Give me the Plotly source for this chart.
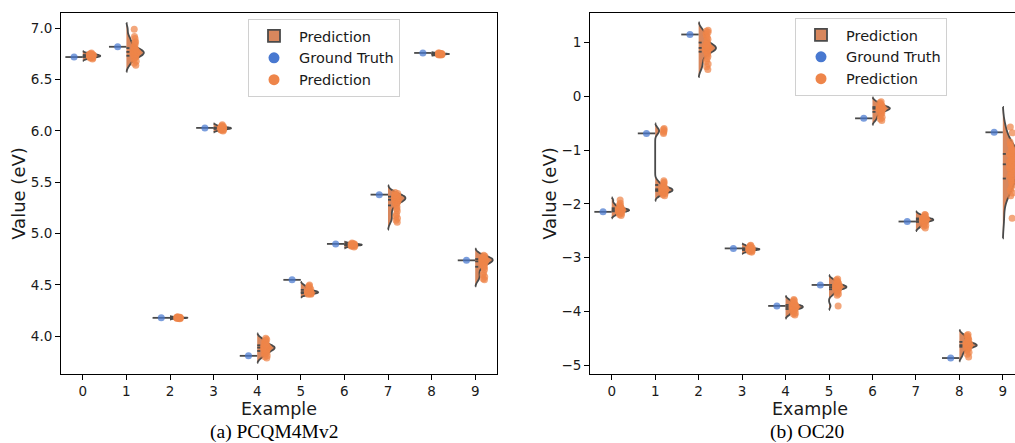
import numpy as np
import plotly.graph_objects as go

examples = list(range(10))

# (a) PCQM4Mv2
gt_a = [6.72, 6.82, 4.18, 6.03, 3.81, 4.55, 4.90, 5.38, 6.76, 4.74]
pred_a = [
    [6.70, 6.71, 6.72, 6.72, 6.73, 6.73, 6.73, 6.74, 6.74, 6.74, 6.75, 6.75, 6.76, 6.72, 6.73, 6.71, 6.74, 6.73, 6.75, 6.72],
    [6.64, 6.66, 6.68, 6.70, 6.71, 6.72, 6.73, 6.74, 6.75, 6.75, 6.76, 6.76, 6.77, 6.77, 6.78, 6.78, 6.79, 6.80, 6.81, 6.82, 6.84, 6.86, 6.87, 6.90, 6.92, 6.99, 6.74, 6.79, 6.73, 6.77],
    [4.17, 4.175, 4.18, 4.18, 4.18, 4.185, 4.18, 4.175, 4.185, 4.19, 4.18, 4.18, 4.175, 4.18, 4.185],
    [6.00, 6.01, 6.01, 6.02, 6.02, 6.02, 6.03, 6.03, 6.03, 6.03, 6.04, 6.04, 6.05, 6.06, 6.02, 6.03, 6.01, 6.04, 6.02, 6.03],
    [3.79, 3.80, 3.81, 3.83, 3.84, 3.85, 3.86, 3.87, 3.88, 3.88, 3.89, 3.89, 3.89, 3.90, 3.90, 3.91, 3.92, 3.93, 3.94, 3.95, 3.96, 3.97, 3.98, 3.87, 3.90, 3.91, 3.86, 3.84],
    [4.41, 4.41, 4.42, 4.42, 4.42, 4.43, 4.43, 4.43, 4.43, 4.44, 4.44, 4.44, 4.45, 4.46, 4.47, 4.48, 4.49, 4.50, 4.42, 4.43],
    [4.87, 4.88, 4.88, 4.89, 4.89, 4.89, 4.89, 4.90, 4.90, 4.90, 4.91, 4.88, 4.89, 4.90, 4.89],
    [5.11, 5.13, 5.15, 5.17, 5.19, 5.22, 5.24, 5.26, 5.28, 5.29, 5.30, 5.31, 5.32, 5.33, 5.33, 5.34, 5.34, 5.35, 5.35, 5.35, 5.36, 5.36, 5.37, 5.37, 5.38, 5.38, 5.39, 5.40, 5.34, 5.36, 5.33, 5.31],
    [6.74, 6.745, 6.75, 6.75, 6.75, 6.755, 6.76, 6.75, 6.745, 6.75, 6.755, 6.75, 6.76, 6.74, 6.75],
    [4.55, 4.56, 4.58, 4.60, 4.62, 4.65, 4.67, 4.68, 4.69, 4.70, 4.71, 4.72, 4.73, 4.73, 4.74, 4.74, 4.75, 4.75, 4.75, 4.76, 4.76, 4.77, 4.78, 4.79, 4.74, 4.72, 4.76, 4.77],
]

# (b) OC20
gt_b = [-2.15, -0.69, 1.15, -2.83, -3.90, -3.51, -0.41, -2.33, -4.87, -0.67]
pred_b = [
    [-2.22, -2.20, -2.18, -2.17, -2.16, -2.15, -2.14, -2.13, -2.13, -2.12, -2.12, -2.11, -2.11, -2.10, -2.10, -2.09, -2.08, -2.07, -2.06, -2.04, -2.02, -1.99, -1.93, -2.12, -2.14, -2.11],
    [-0.60, -0.62, -0.64, -0.67, -0.69, -1.85, -1.83, -1.81, -1.80, -1.79, -1.78, -1.77, -1.76, -1.75, -1.75, -1.74, -1.74, -1.73, -1.73, -1.72, -1.71, -1.70, -1.69, -1.67, -1.65, -1.62, -1.60, -1.57, -1.76, -1.74, -1.72, -1.78, -1.70],
    [0.50, 0.55, 0.60, 0.65, 0.70, 0.74, 0.78, 0.80, 0.83, 0.85, 0.87, 0.88, 0.89, 0.90, 0.90, 0.91, 0.92, 0.93, 0.95, 0.97, 1.00, 1.03, 1.06, 1.10, 1.13, 1.16, 1.19, 1.21, 1.23, 0.88, 0.92, 0.95, 0.86],
    [-2.90, -2.89, -2.88, -2.87, -2.86, -2.86, -2.85, -2.85, -2.85, -2.84, -2.84, -2.83, -2.83, -2.82, -2.81, -2.80, -2.78, -2.77, -2.85, -2.84],
    [-4.07, -4.05, -4.03, -4.01, -3.99, -3.97, -3.96, -3.95, -3.94, -3.93, -3.92, -3.92, -3.91, -3.91, -3.90, -3.89, -3.88, -3.87, -3.86, -3.84, -3.82, -3.80, -3.78, -3.93, -3.90, -3.94],
    [-3.90, -3.70, -3.68, -3.65, -3.63, -3.61, -3.59, -3.58, -3.57, -3.56, -3.55, -3.55, -3.54, -3.53, -3.52, -3.51, -3.50, -3.48, -3.46, -3.44, -3.42, -3.40, -3.55, -3.53, -3.57],
    [-0.45, -0.42, -0.39, -0.36, -0.33, -0.31, -0.29, -0.27, -0.26, -0.25, -0.24, -0.23, -0.22, -0.22, -0.21, -0.20, -0.19, -0.18, -0.16, -0.14, -0.12, -0.10, -0.23, -0.21, -0.25],
    [-2.45, -2.42, -2.40, -2.38, -2.36, -2.34, -2.33, -2.32, -2.31, -2.30, -2.30, -2.29, -2.29, -2.28, -2.27, -2.26, -2.25, -2.23, -2.21, -2.20, -2.31, -2.29],
    [-4.85, -4.80, -4.76, -4.73, -4.70, -4.68, -4.66, -4.65, -4.64, -4.63, -4.63, -4.62, -4.61, -4.60, -4.59, -4.57, -4.55, -4.53, -4.50, -4.47, -4.45, -4.43, -4.64, -4.62, -4.66],
    [-0.57, -0.68, -0.85, -0.90, -0.95, -1.00, -1.02, -1.05, -1.08, -1.10, -1.12, -1.15, -1.18, -1.20, -1.22, -1.25, -1.28, -1.30, -1.33, -1.36, -1.40, -1.44, -1.48, -1.52, -1.56, -1.60, -1.65, -1.70, -1.75, -1.80, -1.85, -2.27],
]

ticks_a = [4.0, 4.5, 5.0, 5.5, 6.0, 6.5, 7.0]
ticks_b = [-5, -4, -3, -2, -1, 0, 1]

BLUE = "rgba(72,120,208,0.72)"
BLUE_LEG = "#4878d0"
ORANGE = "rgba(238,133,74,0.72)"
ORANGE_LEG = "#ee854a"
VFILL = "#d8875d"
EDGE = "#4a4a4a"
FONT = "DejaVu Sans"

fig = go.Figure()


def add_panel(gt, preds, xa, ya, legend):
    # violins first (drawn underneath)
    for i, p in zip(examples, preds):
        fig.add_trace(go.Violin(
            x0=i, y=p, side="positive", width=0.8, scalemode="width",
            fillcolor=VFILL, opacity=1, line=dict(color=EDGE, width=1.8),
            points="all", pointpos=0.5, jitter=0.15,
            marker=dict(color=ORANGE, size=7, line=dict(width=0)),
            name="Prediction", legendgroup="viol" + legend, legend=legend,
            showlegend=(i == 0), xaxis=xa, yaxis=ya, hoverinfo="skip",
        ))
    # ground-truth half (single value -> horizontal line) + quartile sticks
    lx, ly = [], []
    for i, g in zip(examples, gt):
        lx += [i - 0.4, i, None]
        ly += [g, g, None]
    for i, p in zip(examples, preds):
        for q in np.percentile(p, [25, 50, 75]):
            lx += [i, i + 0.07, None]
            ly += [q, q, None]
    fig.add_trace(go.Scatter(x=lx, y=ly, mode="lines", line=dict(color=EDGE, width=1.8),
                             showlegend=False, xaxis=xa, yaxis=ya, hoverinfo="skip"))
    fig.add_trace(go.Scatter(x=[i - 0.2 for i in examples], y=gt, mode="markers",
                             marker=dict(color=BLUE, size=7), showlegend=False,
                             xaxis=xa, yaxis=ya))
    # legend entries
    fig.add_trace(go.Scatter(x=[None], y=[None], mode="markers", name="Ground Truth",
                             marker=dict(color=BLUE_LEG, size=11), legend=legend,
                             xaxis=xa, yaxis=ya))
    fig.add_trace(go.Scatter(x=[None], y=[None], mode="markers", name="Prediction",
                             marker=dict(color=ORANGE_LEG, size=11), legend=legend,
                             xaxis=xa, yaxis=ya))


add_panel(gt_a, pred_a, "x", "y", "legend")
add_panel(gt_b, pred_b, "x2", "y2", "legend2")

axis_common = dict(showgrid=False, zeroline=False, showline=True, linecolor="black",
                   linewidth=1, ticks="outside", ticklen=5, tickwidth=1, tickcolor="black",
                   tickfont=dict(family=FONT, size=13.5, color="#1a1a1a"))
title_font = dict(family=FONT, size=18, color="#1a1a1a")
xtitle_font = dict(family=FONT, size=17.5, color="#1a1a1a")

y_dom = [1 - 374 / 443, 1 - 13 / 443]
xdom_a = [61 / 1015, 497 / 1015]
xdom_b = [590 / 1015, 1.0]

legend_common = dict(xanchor="left", yanchor="top", bgcolor="white", bordercolor="#d0d0d0",
                     borderwidth=1, itemwidth=40, tracegroupgap=0,
                     font=dict(family=FONT, size=14.5, color="#1a1a1a"))

fig.update_layout(
    width=1015, height=443,
    margin=dict(l=0, r=0, t=0, b=0, autoexpand=False),
    paper_bgcolor="white", plot_bgcolor="white",
    font=dict(family=FONT, color="#1a1a1a"),
    xaxis=dict(domain=xdom_a, range=[-0.5, 9.5], tickvals=examples,
               mirror=True, anchor="y", **axis_common),
    yaxis=dict(domain=y_dom, range=[3.633, 7.149], tickvals=ticks_a, tickformat=".1f",
               mirror=True, title=dict(text="Value (eV)", font=title_font, standoff=0),
               anchor="x", **axis_common),
    xaxis2=dict(domain=xdom_b, range=[-0.5, 9.28], tickvals=examples,
                mirror=True, anchor="y2", **axis_common),
    yaxis2=dict(domain=y_dom, range=[-5.167, 1.55], tickvals=ticks_b,
                mirror=False, title=dict(text="Value (eV)", font=title_font, standoff=0),
                anchor="x2", **axis_common),
    legend=dict(x=248 / 1015, y=1 - 19 / 443, **legend_common),
    legend2=dict(x=795 / 1015, y=1 - 18 / 443, **legend_common),
    showlegend=True,
)

# x-axis titles (placed as annotations for tight vertical control)
for cx in (279 / 1015, 810 / 1015):
    fig.add_annotation(text="Example", x=cx, y=1 - 409 / 443, xref="paper", yref="paper",
                       showarrow=False, xanchor="center", yanchor="middle", font=xtitle_font)

cap_font = dict(family="Liberation Serif", size=19.5, color="black")
fig.add_annotation(text="(a) PCQM4Mv2", x=274 / 1015, y=1 - 431.5 / 443, xref="paper", yref="paper",
                   showarrow=False, xanchor="center", yanchor="middle", font=cap_font)
fig.add_annotation(text="(b) OC20", x=807 / 1015, y=1 - 431.5 / 443, xref="paper", yref="paper",
                   showarrow=False, xanchor="center", yanchor="middle", font=cap_font)

fig.write_html("out.html", config={"displayModeBar": False},
               post_script="document.body.style.margin='0';document.body.style.overflow='hidden';")
